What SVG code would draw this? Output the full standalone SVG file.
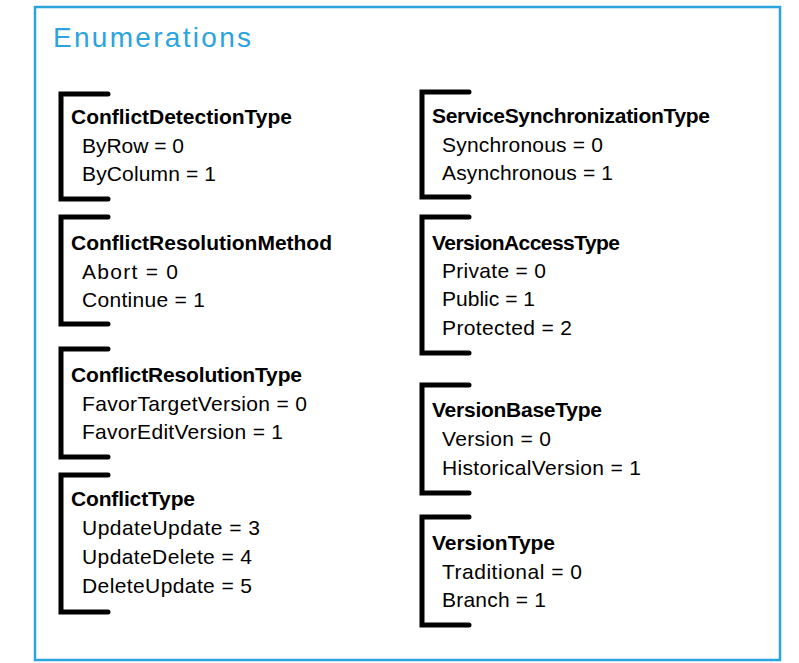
<svg xmlns="http://www.w3.org/2000/svg" width="799" height="663" viewBox="0 0 799 663">
<style>
.frame{fill:#fff;stroke:#2aa4dd;stroke-width:2.5}
.hdr{font-family:"Liberation Sans",Arial,sans-serif;font-size:28px;fill:#2aa4dd}
.br{fill:none;stroke:#000;stroke-width:5;stroke-linecap:round;stroke-linejoin:miter}
.t{font-family:"Liberation Sans",Arial,sans-serif;font-size:21px;font-weight:bold;fill:#000}
.i{font-family:"Liberation Sans",Arial,sans-serif;font-size:21px;fill:#000}
</style>
<rect x="0" y="0" width="799" height="663" fill="#fff"/>
<rect class="frame" x="35" y="7" width="745" height="653"/>
<text class="hdr" x="53" y="47" textLength="198">Enumerations</text>

<g id="ConflictDetectionType">
<path class="br" d="M108,94 H61 V199 H108"/>
<text class="t" x="71" y="124" textLength="221">ConflictDetectionType</text>
<text class="i" x="82" y="153" textLength="102">ByRow = 0</text>
<text class="i" x="82" y="181" textLength="134">ByColumn = 1</text>
</g>

<g id="ConflictResolutionMethod">
<path class="br" d="M108,217 H61 V324 H108"/>
<text class="t" x="71" y="250" textLength="261">ConflictResolutionMethod</text>
<text class="i" x="82" y="279" textLength="96">Abort = 0</text>
<text class="i" x="82" y="307" textLength="123">Continue = 1</text>
</g>

<g id="ConflictResolutionType">
<path class="br" d="M108,349 H61 V457 H108"/>
<text class="t" x="71" y="382" textLength="231">ConflictResolutionType</text>
<text class="i" x="82" y="411" textLength="225">FavorTargetVersion = 0</text>
<text class="i" x="82" y="439" textLength="201">FavorEditVersion = 1</text>
</g>

<g id="ConflictType">
<path class="br" d="M108,475 H61 V612 H108"/>
<text class="t" x="71" y="506" textLength="124">ConflictType</text>
<text class="i" x="82" y="535" textLength="178">UpdateUpdate = 3</text>
<text class="i" x="82" y="564" textLength="170">UpdateDelete = 4</text>
<text class="i" x="82" y="593" textLength="170">DeleteUpdate = 5</text>
</g>

<g id="ServiceSynchronizationType">
<path class="br" d="M469,92 H422 V197 H469"/>
<text class="t" x="432" y="123" textLength="278">ServiceSynchronizationType</text>
<text class="i" x="442" y="152" textLength="161">Synchronous = 0</text>
<text class="i" x="442" y="180" textLength="171">Asynchronous = 1</text>
</g>

<g id="VersionAccessType">
<path class="br" d="M469,217 H422 V353 H469"/>
<text class="t" x="432" y="250" textLength="188">VersionAccessType</text>
<text class="i" x="442" y="278" textLength="104">Private = 0</text>
<text class="i" x="442" y="306" textLength="93">Public = 1</text>
<text class="i" x="442" y="335" textLength="130">Protected = 2</text>
</g>

<g id="VersionBaseType">
<path class="br" d="M469,385 H422 V493 H469"/>
<text class="t" x="432" y="417" textLength="170">VersionBaseType</text>
<text class="i" x="442" y="446" textLength="109">Version = 0</text>
<text class="i" x="442" y="475" textLength="199">HistoricalVersion = 1</text>
</g>

<g id="VersionType">
<path class="br" d="M469,517 H422 V625 H469"/>
<text class="t" x="432" y="550" textLength="123">VersionType</text>
<text class="i" x="442" y="579" textLength="140">Traditional = 0</text>
<text class="i" x="442" y="607" textLength="104">Branch = 1</text>
</g>

<g id="connectors"></g>
</svg>
